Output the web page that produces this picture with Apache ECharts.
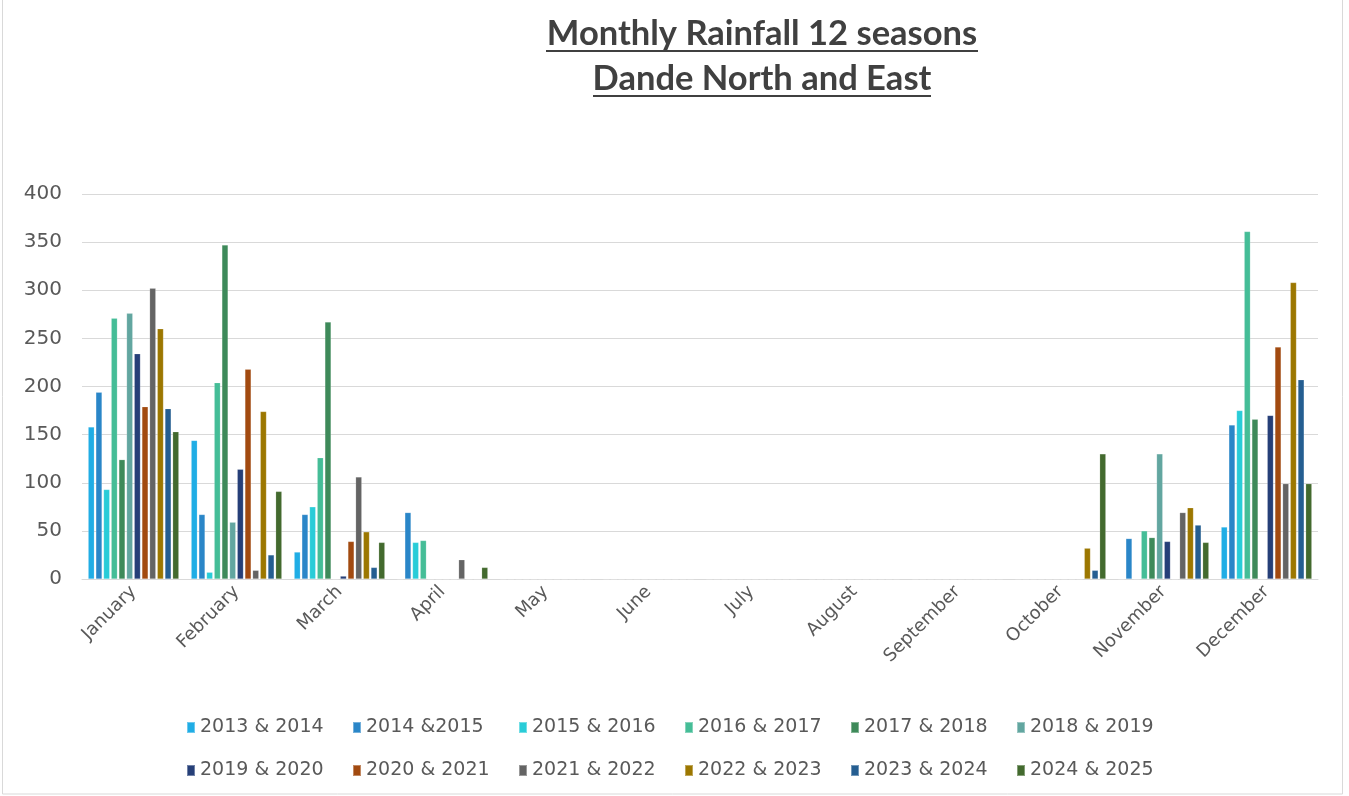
<!DOCTYPE html>
<html><head><meta charset="utf-8">
<script src="https://cdn.jsdelivr.net/npm/echarts@6/dist/echarts.min.js"></script>
<style>html,body{margin:0;padding:0;background:#fff}#c{width:1349px;height:796px}</style>
</head><body><div id="c"></div>
<script>
const months = ['January','February','March','April','May','June','July','August','September','October','November','December'];
const seasons = ['2013 & 2014','2014 &2015','2015 & 2016','2016 & 2017','2017 & 2018','2018 & 2019','2019 & 2020','2020 & 2021','2021 & 2022','2022 & 2023','2023 & 2024','2024 & 2025'];
const colors = ['#20ADE5','#2A86C8','#29CCD8','#45BD97','#3E8A5A','#62A6A0','#263F78','#A24A10','#646464','#9C7700','#255E91','#436A2E'];
const yTicks = [0,50,100,150,200,250,300,350,400];
// values per season, Jan..Dec
const s2013 = [158,144,28,0,0,0,0,0,0,0,0,54];
const s2014 = [194,67,67,69,0,0,0,0,0,0,42,160];
const s2015 = [93,7,75,38,0,0,0,0,0,0,0,175];
const s2016 = [271,204,126,40,0,0,0,0,0,0,50,361];
const s2017 = [124,347,267,0,0,0,0,0,0,0,43,166];
const s2018 = [276,59,0,0,0,0,0,0,0,0,130,0];
const s2019 = [234,114,3,0,0,0,0,0,0,0,39,170];
const s2020 = [179,218,39,0,0,0,0,0,0,0,0,241];
const s2021 = [302,9,106,20,0,0,0,0,0,0,69,99];
const s2022 = [260,174,49,0,0,0,0,0,0,32,74,308];
const s2023 = [177,25,12,0,0,0,0,0,0,9,56,207];
const s2024 = [153,91,38,12,0,0,0,0,0,130,38,99];
const allData = [s2013,s2014,s2015,s2016,s2017,s2018,s2019,s2020,s2021,s2022,s2023,s2024];

const chart = echarts.init(document.getElementById('c'));
const font = 'DejaVu Sans';
function legendAt(names, top){
  return {
    data:names, left:181, top:top, orient:'horizontal',
    itemWidth:8, itemHeight:11, itemGap:11, itemTextGap:4,
    icon:'rect',
    formatter: n => '{a|' + n + '}',
    textStyle:{fontFamily:font,fontSize:19,color:'#595959',width:141,
      rich:{a:{width:141,lineHeight:22,fontFamily:font,fontSize:19,color:'#595959'}}}
  };
}
chart.setOption({
  animation:false,
  backgroundColor:'#fff',
  color: colors,
  graphic:[
    {type:'rect',shape:{x:2.5,y:-2,width:1340,height:796},style:{fill:'none',stroke:'#D9D9D9',lineWidth:1}},
    {type:'text',x:762,y:16,style:{text:'Monthly Rainfall 12 seasons',font:'bold 34.5px Lato',fill:'#404040',textAlign:'center'}},
    {type:'text',x:762,y:61,style:{text:'Dande North and East',font:'bold 34.5px Lato',fill:'#404040',textAlign:'center'}},
    {type:'rect',shape:{x:546,y:50,width:432,height:2},style:{fill:'#404040'}},
    {type:'rect',shape:{x:593,y:95,width:338,height:2},style:{fill:'#404040'}}
  ],
  grid:{left:82,right:31,top:194,bottom:217,containLabel:false},
  legend:[legendAt(seasons.slice(0,6),713), legendAt(seasons.slice(6),756)],
  xAxis:{
    type:'category', data:months,
    axisLine:{lineStyle:{color:'#D9D9D9'}},
    axisTick:{show:false},
    axisLabel:{rotate:45,fontFamily:font,fontSize:18,color:'#595959',margin:10,interval:0}
  },
  yAxis:{
    type:'value', min:0, max:400, interval:50,
    axisLine:{show:false}, axisTick:{show:false},
    splitLine:{lineStyle:{color:'#D9D9D9',width:1}},
    axisLabel:{fontFamily:font,fontSize:20,color:'#595959',margin:20}
  },
  series: seasons.map((s,i)=>({
    name:s, type:'bar', data:allData[i],
    barGap:'25%', barCategoryGap:'12%',
    itemStyle:{color:colors[i],borderColor:'rgba(255,255,255,0.35)',borderWidth:0.5}
  }))
});
</script></body></html>
